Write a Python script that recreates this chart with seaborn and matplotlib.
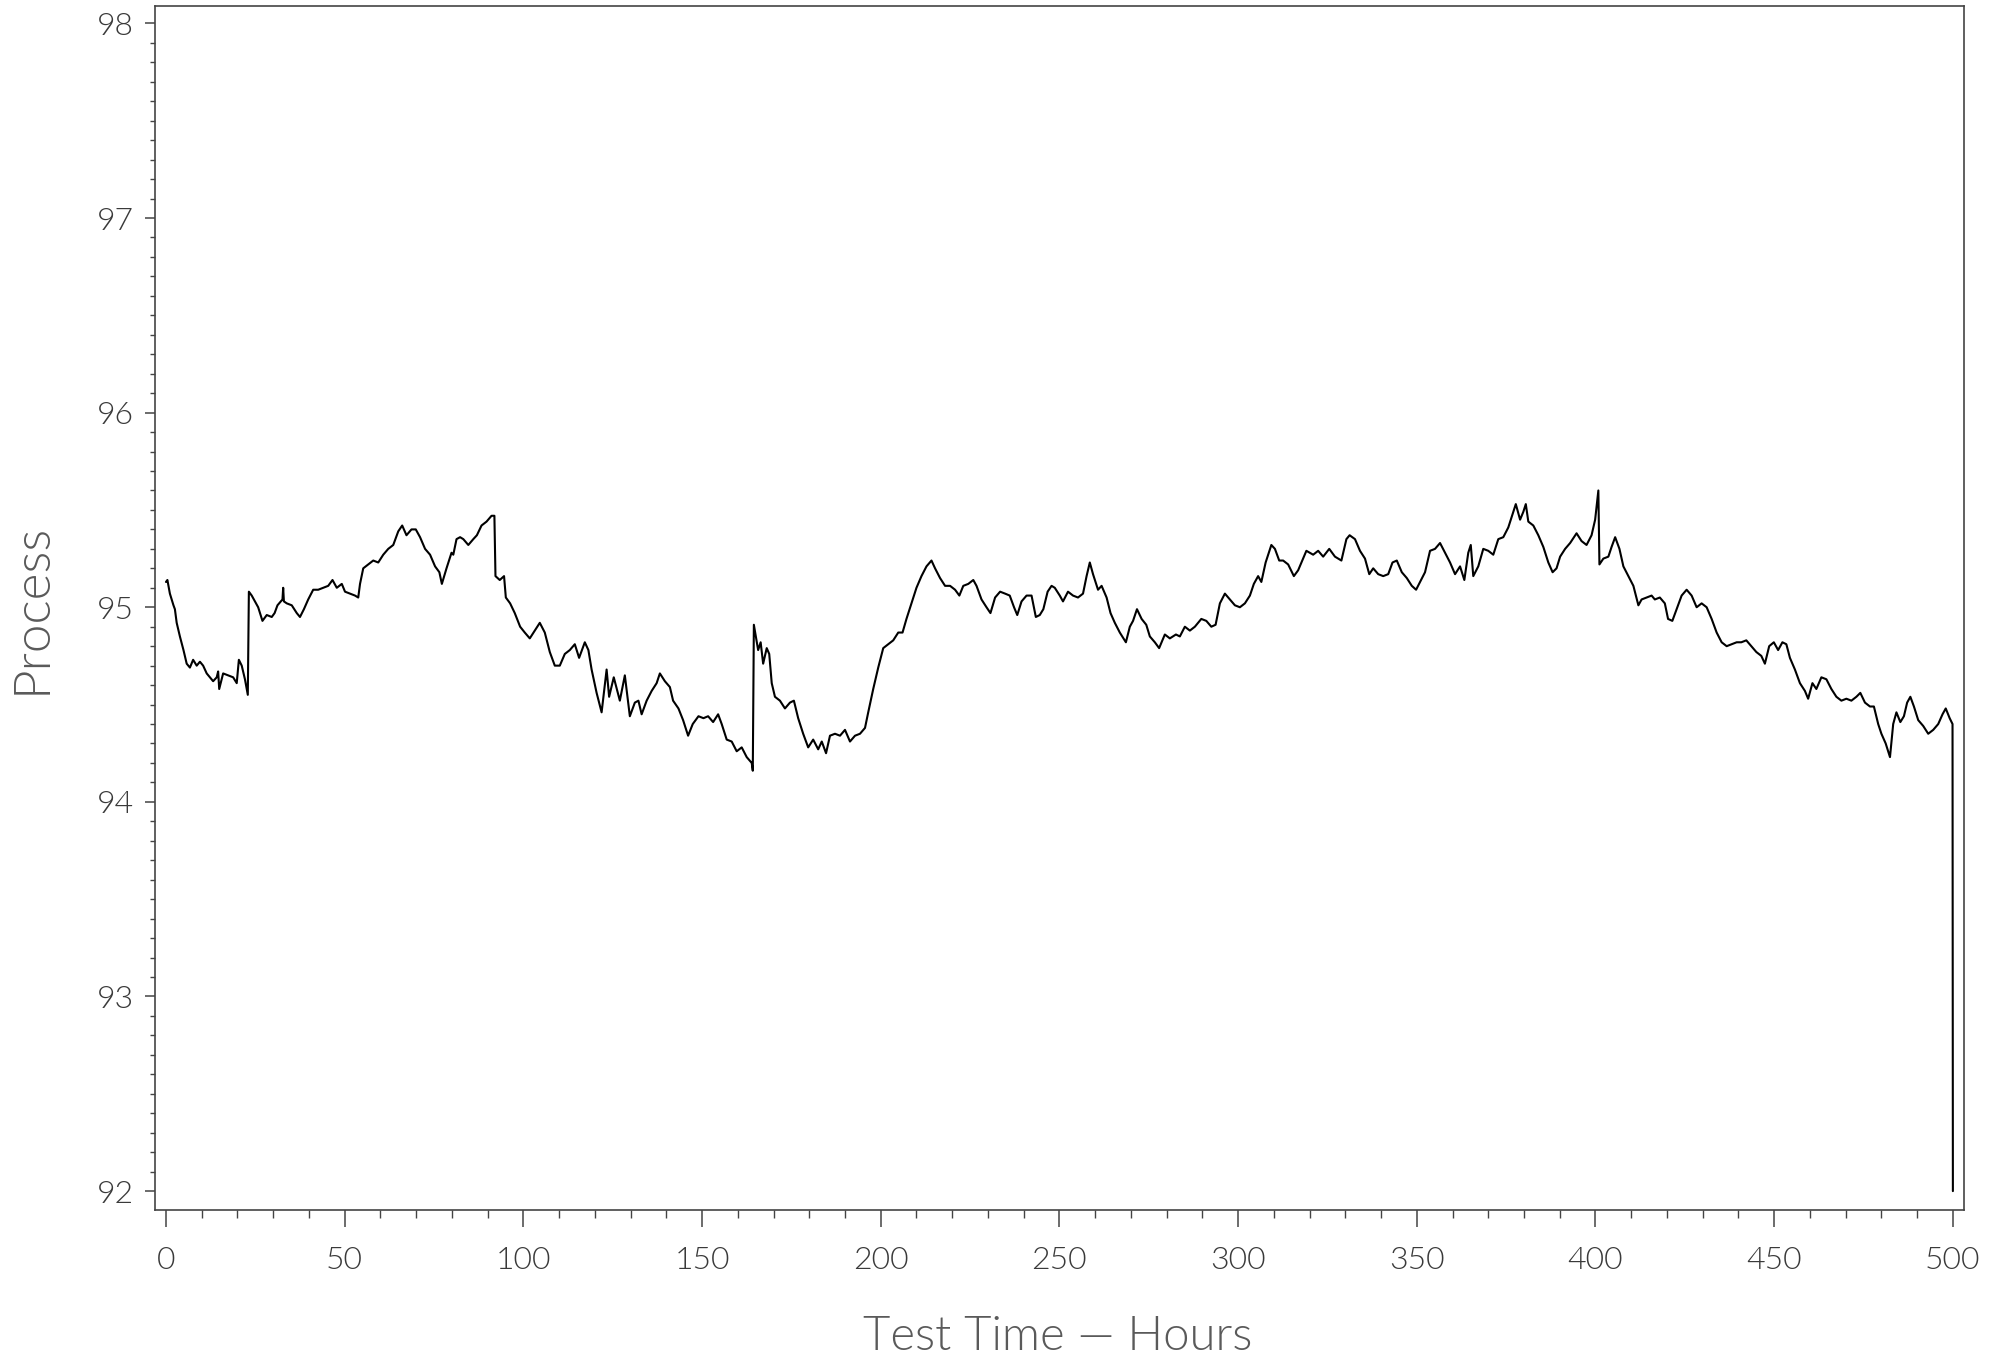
import matplotlib
matplotlib.use("Agg")
import matplotlib.pyplot as plt
import seaborn as sns
import pandas as pd
from matplotlib.ticker import MultipleLocator

# ---- data ----
hours = [
    0.0, 0.4, 1.1, 2.1, 2.5, 3.0, 3.9, 4.9, 5.8, 6.7, 7.6, 8.6, 9.5, 10.4, 11.4, 12.3, 13.2, 14.2, 14.6, 14.9,
    16.0, 17.4, 18.8, 19.8, 20.4, 21.2, 22.1, 22.9, 23.2, 24.0, 24.9, 25.8, 27.0, 28.2, 29.6, 30.4, 31.2, 32.6,
    32.8, 33.0, 33.8, 35.2, 36.6, 37.5, 38.6, 39.8, 41.2, 42.6, 44.0, 45.4, 46.6, 47.8, 49.2, 50.1, 51.5, 52.9,
    53.8, 54.3, 55.2, 56.6, 58.0, 59.4, 60.8, 62.2, 63.6, 65.0, 66.1, 67.3, 68.7, 69.9, 71.1, 72.5, 73.9, 75.3,
    76.5, 77.2, 78.5, 79.9, 80.4, 81.3, 82.3, 83.2, 84.6, 86.0, 87.0, 88.3, 89.7, 91.1, 91.9, 92.2, 93.4, 94.6,
    95.1, 96.3, 97.6, 99.1, 100.4, 101.8, 103.2, 104.6, 106.0, 107.4, 108.8, 110.2, 111.6, 113.0, 114.4, 115.6,
    117.2, 118.2, 119.1, 120.5, 121.9, 123.3, 124.0, 125.3, 127.0, 128.4, 129.8, 131.2, 132.2, 133.1, 134.5,
    135.9, 137.3, 138.2, 139.6, 141.0, 141.9, 143.4, 144.7, 146.1, 147.4, 149.0, 150.4, 151.7, 153.1, 154.5,
    155.5, 156.9, 158.3, 159.7, 161.1, 162.5, 163.9, 164.2, 164.5, 165.7, 166.4, 167.1, 168.1, 168.8, 169.5,
    170.4, 171.8, 173.2, 174.6, 175.7, 176.9, 178.3, 179.7, 181.1, 182.5, 183.5, 184.7, 185.8, 187.2, 188.6,
    190.0, 191.4, 192.8, 194.2, 195.6, 196.5, 197.9, 199.3, 200.7, 202.1, 203.5, 204.9, 206.1, 207.2, 208.6,
    210.0, 211.4, 212.8, 214.2, 215.2, 216.6, 218.0, 219.4, 220.8, 222.0, 223.1, 224.5, 225.9, 226.8, 228.2,
    229.6, 230.7, 232.0, 233.4, 234.8, 236.1, 237.3, 238.2, 239.4, 240.8, 242.2, 243.4, 244.5, 245.5, 246.7,
    247.8, 248.7, 250.1, 251.0, 252.4, 253.8, 255.2, 256.6, 257.6, 258.5, 259.4, 260.8, 261.8, 263.2, 264.3,
    265.5, 266.9, 268.6, 269.7, 270.6, 271.7, 273.0, 274.3, 275.3, 276.7, 277.9, 279.5, 280.9, 282.6, 283.7,
    285.1, 286.5, 287.9, 289.7, 291.1, 292.5, 293.7, 294.9, 296.3, 297.7, 299.1, 300.5, 301.9, 303.3, 304.4,
    305.6, 306.5, 307.7, 309.3, 310.3, 311.5, 312.6, 314.0, 315.6, 316.8, 318.2, 319.1, 321.0, 322.4, 323.8,
    325.5, 327.1, 328.9, 330.3, 331.2, 332.7, 334.1, 335.5, 336.7, 337.8, 339.2, 340.6, 342.0, 343.2, 344.4,
    345.8, 347.2, 348.6, 349.8, 350.9, 352.3, 353.7, 355.1, 356.5, 357.9, 359.3, 360.7, 362.1, 363.3, 364.4,
    365.1, 365.8, 367.2, 368.6, 370.0, 371.4, 372.8, 374.2, 375.6, 377.0, 377.7, 378.9, 379.8, 380.5, 381.2,
    382.6, 384.0, 385.4, 386.8, 388.0, 389.1, 390.1, 391.5, 392.9, 394.7, 396.1, 397.5, 398.9, 399.9, 400.5,
    400.8, 401.1, 402.2, 403.6, 404.5, 405.5, 406.7, 407.8, 409.2, 410.6, 412.0, 412.9, 414.3, 415.7, 416.6,
    418.0, 419.4, 420.3, 421.5, 422.7, 424.1, 425.5, 426.9, 428.3, 429.7, 431.1, 432.5, 433.9, 435.3, 436.7,
    438.1, 439.5, 440.8, 442.2, 443.6, 445.0, 446.4, 447.4, 448.6, 449.9, 451.1, 452.3, 453.4, 454.4, 455.8,
    457.2, 458.6, 459.5, 460.7, 461.8, 463.2, 464.6, 466.0, 467.4, 468.8, 470.2, 471.6, 473.0, 474.1, 475.4,
    476.8, 477.9, 479.1, 480.0, 481.2, 482.4, 483.3, 484.2, 485.3, 486.3, 487.2, 488.1, 489.1, 490.3, 491.7,
    493.1, 494.5, 495.9, 497.1, 498.0, 499.1, 499.9, 500.0,
]
process = [
    95.13, 95.14, 95.07, 95.01, 94.99, 94.92, 94.85, 94.78, 94.71, 94.69, 94.73, 94.70, 94.72, 94.70, 94.66, 94.64, 94.62, 94.64, 94.67, 94.58,
    94.66, 94.65, 94.64, 94.61, 94.73, 94.70, 94.63, 94.55, 95.08, 95.06, 95.03, 95.00, 94.93, 94.96, 94.95, 94.97, 95.01, 95.04,
    95.10, 95.03, 95.02, 95.01, 94.97, 94.95, 94.99, 95.04, 95.09, 95.09, 95.10, 95.11, 95.14, 95.10, 95.12, 95.08, 95.07, 95.06,
    95.05, 95.12, 95.20, 95.22, 95.24, 95.23, 95.27, 95.30, 95.32, 95.39, 95.42, 95.37, 95.40, 95.40, 95.36, 95.30, 95.27, 95.21,
    95.18, 95.12, 95.20, 95.28, 95.27, 95.35, 95.36, 95.35, 95.32, 95.35, 95.37, 95.42, 95.44, 95.47, 95.47, 95.16, 95.14, 95.16,
    95.05, 95.02, 94.97, 94.90, 94.87, 94.84, 94.88, 94.92, 94.87, 94.77, 94.70, 94.70, 94.76, 94.78, 94.81, 94.74,
    94.82, 94.78, 94.68, 94.56, 94.46, 94.68, 94.54, 94.64, 94.52, 94.65, 94.44, 94.51, 94.52, 94.45, 94.52,
    94.57, 94.61, 94.66, 94.62, 94.59, 94.52, 94.48, 94.42, 94.34, 94.40, 94.44, 94.43, 94.44, 94.41, 94.45,
    94.40, 94.32, 94.31, 94.26, 94.28, 94.23, 94.20, 94.16, 94.91, 94.78, 94.82, 94.71, 94.79, 94.76, 94.61,
    94.54, 94.52, 94.48, 94.51, 94.52, 94.43, 94.35, 94.28, 94.32, 94.27, 94.31, 94.25, 94.34, 94.35, 94.34,
    94.37, 94.31, 94.34, 94.35, 94.38, 94.46, 94.58, 94.69, 94.79, 94.81, 94.83, 94.87, 94.87, 94.94, 95.02,
    95.10, 95.16, 95.21, 95.24, 95.20, 95.15, 95.11, 95.11, 95.09, 95.06, 95.11, 95.12, 95.14, 95.11, 95.04,
    95.00, 94.97, 95.05, 95.08, 95.07, 95.06, 95.00, 94.96, 95.03, 95.06, 95.06, 94.95, 94.96, 94.99, 95.08,
    95.11, 95.10, 95.06, 95.03, 95.08, 95.06, 95.05, 95.07, 95.16, 95.23, 95.17, 95.09, 95.11, 95.05, 94.97,
    94.92, 94.87, 94.82, 94.90, 94.93, 94.99, 94.94, 94.91, 94.85, 94.82, 94.79, 94.86, 94.84, 94.86, 94.85,
    94.90, 94.88, 94.90, 94.94, 94.93, 94.90, 94.91, 95.02, 95.07, 95.04, 95.01, 95.00, 95.02, 95.06, 95.12,
    95.16, 95.13, 95.23, 95.32, 95.30, 95.24, 95.24, 95.22, 95.16, 95.19, 95.25, 95.29, 95.27, 95.29, 95.26,
    95.30, 95.26, 95.24, 95.35, 95.37, 95.35, 95.29, 95.25, 95.17, 95.20, 95.17, 95.16, 95.17, 95.23, 95.24,
    95.18, 95.15, 95.11, 95.09, 95.13, 95.18, 95.29, 95.30, 95.33, 95.28, 95.23, 95.17, 95.21, 95.14, 95.28,
    95.32, 95.16, 95.21, 95.30, 95.29, 95.27, 95.35, 95.36, 95.41, 95.49, 95.53, 95.45, 95.49, 95.53, 95.44,
    95.42, 95.37, 95.31, 95.23, 95.18, 95.20, 95.26, 95.30, 95.33, 95.38, 95.34, 95.32, 95.37, 95.45, 95.55,
    95.60, 95.22, 95.25, 95.26, 95.31, 95.36, 95.30, 95.21, 95.16, 95.11, 95.01, 95.04, 95.05, 95.06, 95.04,
    95.05, 95.02, 94.94, 94.93, 94.99, 95.06, 95.09, 95.06, 95.00, 95.02, 95.00, 94.94, 94.87, 94.82, 94.80,
    94.81, 94.82, 94.82, 94.83, 94.80, 94.77, 94.75, 94.71, 94.80, 94.82, 94.78, 94.82, 94.81, 94.74, 94.68,
    94.61, 94.57, 94.53, 94.61, 94.58, 94.64, 94.63, 94.58, 94.54, 94.52, 94.53, 94.52, 94.54, 94.56, 94.51,
    94.49, 94.49, 94.40, 94.35, 94.30, 94.23, 94.40, 94.46, 94.41, 94.44, 94.51, 94.54, 94.49, 94.42, 94.39,
    94.35, 94.37, 94.40, 94.45, 94.48, 94.43, 94.40, 92.00,
]
x_ticks = [0, 50, 100, 150, 200, 250, 300, 350, 400, 450, 500]
y_ticks = [92, 93, 94, 95, 96, 97, 98]
x_label = "Test Time \u2014 Hours"
y_label = "Process"

# ---- styling ----
sns.set_style("ticks")
plt.rcParams["font.family"] = ["Lato", "DejaVu Sans"]
plt.rcParams["font.weight"] = 300
plt.rcParams["axes.labelweight"] = 300

fig = plt.figure(figsize=(20.02, 13.60), dpi=100)
ax = fig.add_axes([0.0774, 0.1103, 0.9036, 0.8851])

df = pd.DataFrame({"hours": hours, "process": process})
sns.lineplot(data=df, x="hours", y="process", ax=ax, color="black",
             linewidth=1.5, estimator=None, sort=False)

ax.set_xlim(-3.08, 503.1)
ax.set_ylim(91.903, 98.088)
ax.set_xticks(x_ticks)
ax.set_yticks(y_ticks)
ax.xaxis.set_minor_locator(MultipleLocator(10))
ax.yaxis.set_minor_locator(MultipleLocator(0.1))

tick_col = "#444444"
ax.tick_params(axis="x", which="major", direction="out", length=12, width=1.1,
               color=tick_col, labelsize=23, labelcolor="#3a3a3a", pad=14)
ax.tick_params(axis="x", which="minor", direction="out", length=5.8, width=1.0,
               color=tick_col)
ax.tick_params(axis="y", which="major", direction="out", length=7.2, width=1.1,
               color=tick_col, labelsize=23, labelcolor="#3a3a3a", pad=8)
ax.tick_params(axis="y", which="minor", direction="out", length=3.6, width=1.0,
               color=tick_col)
for lab in ax.get_xticklabels() + ax.get_yticklabels():
    lab.set_fontweight(300)

for s in ax.spines.values():
    s.set_visible(True)
    s.set_color(tick_col)
    s.set_linewidth(1.2)

ax.set_xlabel(x_label, fontsize=34, color="#5a5a5a", fontweight=300)
ax.set_ylabel(y_label, fontsize=37, color="#5a5a5a", fontweight=300)
ax.xaxis.label.set_va("center")
ax.yaxis.label.set_va("center")
ax.xaxis.set_label_coords(0.499, -0.1055)
ax.yaxis.set_label_coords(-0.068, 0.5)

fig.savefig("out.png", dpi=100, facecolor="white")
